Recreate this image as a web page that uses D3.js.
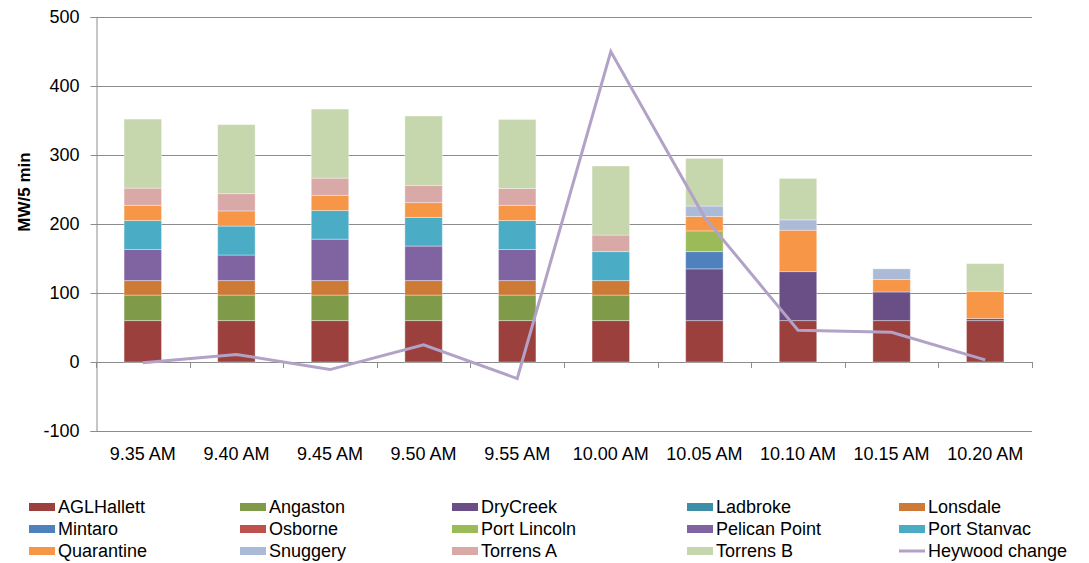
<!DOCTYPE html>
<html>
<head>
<meta charset="utf-8">
<script src="https://cdn.jsdelivr.net/npm/d3@7"></script>
<style>
  html, body { margin: 0; padding: 0; background: #fff; }
  svg { display: block; font-family: "Liberation Sans", Arial, sans-serif; }
</style>
</head>
<body>
<svg id="chart" width="1089" height="563"></svg>
<script>
const categories = ["9.35 AM","9.40 AM","9.45 AM","9.50 AM","9.55 AM","10.00 AM","10.05 AM","10.10 AM","10.15 AM","10.20 AM"];
const yTicks = [-100, 0, 100, 200, 300, 400, 500];
const yTickLabels = ["-100", "0", "100", "200", "300", "400", "500"];

const AGLHallett   = [60, 60, 60, 60, 60, 60, 60, 60, 60, 60];
const Angaston     = [37, 37, 37, 37, 37, 37, 0, 0, 0, 0];
const DryCreek     = [0, 0, 0, 0, 0, 0, 75, 71, 41.5, 3];
const Ladbroke     = [0, 0, 0, 0, 0, 0, 0, 0, 0, 0];
const Lonsdale     = [21, 21, 21, 21, 21, 21, 0, 0, 0, 0];
const Mintaro      = [0, 0, 0, 0, 0, 0, 25, 0, 0, 0];
const Osborne      = [0, 0, 0, 0, 0, 0, 0, 0, 0, 0];
const PortLincoln  = [0, 0, 0, 0, 0, 0, 30, 0, 0, 0];
const PelicanPoint = [45, 37, 60, 50, 45, 0, 0, 0, 0, 0];
const PortStanvac  = [42, 42, 41.5, 41.5, 42, 42, 0, 0, 0, 0];
const Quarantine   = [22, 22, 22, 21.5, 22, 0, 21, 60, 18, 39.5];
const Snuggery     = [0, 0, 0, 0, 0, 0, 15, 15, 15.5, 0];
const TorrensA     = [25, 25, 25, 25, 24.5, 24, 0, 0, 0, 0];
const TorrensB     = [100, 100, 100, 100.5, 100, 100, 69, 60, 0, 40];
const HeywoodChange = [-1, 11, -11, 25, -24, 450, 210, 46, 43, 3];

const seriesNames = ["AGLHallett","Angaston","DryCreek","Ladbroke","Lonsdale","Mintaro","Osborne","Port Lincoln","Pelican Point","Port Stanvac","Quarantine","Snuggery","Torrens A","Torrens B"];
const seriesValues = [AGLHallett, Angaston, DryCreek, Ladbroke, Lonsdale, Mintaro, Osborne, PortLincoln, PelicanPoint, PortStanvac, Quarantine, Snuggery, TorrensA, TorrensB];
const seriesColors = ["#9c403e","#7f9a48","#6a4f87","#3d8ea6","#cc7a36","#4f81bd","#c0504d","#9bbb59","#8064a2","#4bacc6","#f79646","#aabad7","#d9a9a8","#c6d6ad"];
const lineName = "Heywood change";
const lineColor = "#b3a2c7";

(function () {
const svg = d3.select("#chart");
const pLeft = 96, pRight = 1032, pTop = 17, pBottom = 431;

const x = d3.scaleBand().domain(categories).range([pLeft, pRight]).paddingInner(0.6).paddingOuter(0.3);
const step = x.step();
const y = d3.scaleLinear().domain([-100, 500]).range([pBottom, pTop]);

const table = categories.map((c, i) => {
  const row = { cat: c };
  seriesNames.forEach((n, k) => row[n] = seriesValues[k][i]);
  return row;
});
const stacked = d3.stack().keys(seriesNames)(table);

// gridlines
svg.append("g").selectAll("line").data(yTicks).join("line")
  .attr("x1", pLeft).attr("x2", pRight)
  .attr("y1", d => Math.round(y(d)) + 0.5).attr("y2", d => Math.round(y(d)) + 0.5)
  .attr("stroke", "#8c8c8c").attr("stroke-width", 1);

// y axis
const yAxis = svg.append("g").attr("transform", `translate(${pLeft + 0.5},0)`)
  .call(d3.axisLeft(y).tickValues(yTicks).tickSize(6).tickPadding(11)
    .tickFormat((d, i) => yTickLabels[i]));
yAxis.select(".domain").attr("stroke", "#8c8c8c");
yAxis.selectAll(".tick line").attr("stroke", "#8c8c8c");
yAxis.selectAll(".tick text").attr("font-size", 18).attr("fill", "#000")
  .attr("font-family", "Liberation Sans, Arial, sans-serif");

// x ticks at category boundaries on zero line
const boundaries = d3.range(categories.length + 1).map(i => pLeft + i * step);
svg.append("g").selectAll("line").data(boundaries).join("line")
  .attr("x1", d => Math.round(d) + 0.5).attr("x2", d => Math.round(d) + 0.5)
  .attr("y1", Math.round(y(0))).attr("y2", Math.round(y(0)) + 6)
  .attr("stroke", "#8c8c8c");

// x labels
svg.append("g").selectAll("text").data(categories).join("text")
  .attr("x", d => x(d) + x.bandwidth() / 2).attr("y", 460)
  .attr("text-anchor", "middle").attr("font-size", 18).attr("fill", "#000")
  .text(d => d);

// bars
svg.append("g").selectAll("g").data(stacked).join("g")
  .attr("fill", (d, i) => seriesColors[i])
  .selectAll("rect").data(d => d.filter(p => p[1] - p[0] > 0)).join("rect")
  .attr("x", p => x(p.data.cat)).attr("width", x.bandwidth())
  .attr("y", p => y(p[1])).attr("height", p => y(p[0]) - y(p[1]))
  .attr("stroke", "rgba(255,255,255,0.35)").attr("stroke-width", 1);

// line
const line = d3.line().x((d, i) => x(categories[i]) + x.bandwidth() / 2).y(d => y(d));
svg.append("path").datum(HeywoodChange).attr("d", line)
  .attr("fill", "none").attr("stroke", lineColor).attr("stroke-width", 3).attr("stroke-linejoin", "miter");

// y axis title
svg.append("text").attr("transform", "translate(30,192) rotate(-90)")
  .attr("text-anchor", "middle").attr("font-size", 17).attr("font-weight", "bold").attr("fill", "#000")
  .text("MW/5 min");

// legend
const colX = [29, 240, 452, 687, 899];
const rowY = [507, 529, 551];
const legendItems = seriesNames.map((n, i) => ({ name: n, color: seriesColors[i], type: "rect" }))
  .concat([{ name: lineName, color: lineColor, type: "line" }]);
const lg = svg.append("g").selectAll("g").data(legendItems).join("g")
  .attr("transform", (d, i) => `translate(${colX[i % 5]},${rowY[Math.floor(i / 5)]})`);
lg.filter(d => d.type === "rect").append("rect")
  .attr("x", 0).attr("y", -4).attr("width", 26).attr("height", 8).attr("fill", d => d.color);
lg.filter(d => d.type === "line").append("line")
  .attr("x1", 0).attr("x2", 26).attr("y1", 0).attr("y2", 0)
  .attr("stroke", d => d.color).attr("stroke-width", 3);
lg.append("text").attr("x", 29).attr("y", 0).attr("dy", "0.35em")
  .attr("font-size", 18).attr("fill", "#000").text(d => d.name);
})();
</script>
</body>
</html>
